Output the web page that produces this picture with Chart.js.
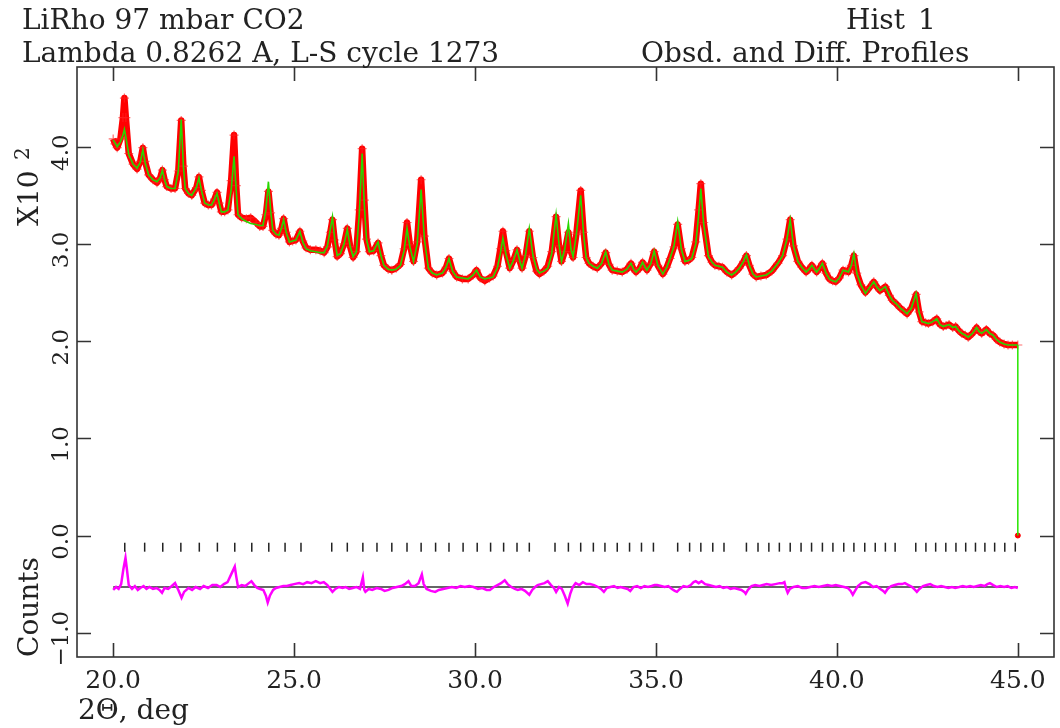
<!DOCTYPE html>
<html>
<head>
<meta charset="utf-8">
<script src="https://cdn.jsdelivr.net/npm/chart.js@4.4.1/dist/chart.umd.min.js"></script>
<style>
  html, body { margin: 0; padding: 0; background: #fff; }
  canvas { display: block; }
</style>
</head>
<body>
<canvas id="gsasPlot" width="1060" height="728"></canvas>
<script>
// profile, 2-theta in deg, counts in units of 10^2
const twoTheta = [
    20.00, 20.05, 20.11, 20.20, 20.27, 20.31, 20.35, 20.43, 20.55, 20.66,
    20.75, 20.82, 20.88, 20.98, 21.10, 21.21, 21.30, 21.36, 21.42, 21.48,
    21.60, 21.71, 21.80, 21.88, 21.94, 21.99, 22.08, 22.17, 22.30, 22.37,
    22.44, 22.53, 22.63, 22.72, 22.80, 22.87, 22.93, 22.99, 23.08, 23.17,
    23.26, 23.34, 23.40, 23.45, 23.55, 23.68, 23.80, 23.95, 24.05, 24.14,
    24.22, 24.29, 24.35, 24.41, 24.50, 24.58, 24.65, 24.71, 24.78, 24.87,
    24.96, 25.05, 25.16, 25.24, 25.33, 25.45, 25.60, 25.72, 25.83, 25.92,
    26.00, 26.06, 26.12, 26.19, 26.28, 26.38, 26.47, 26.55, 26.63, 26.72,
    26.80, 26.88, 26.94, 27.00, 27.08, 27.20, 27.32, 27.40, 27.48, 27.60,
    27.70, 27.82, 27.94, 28.04, 28.12, 28.20, 28.30, 28.40, 28.51, 28.60,
    28.71, 28.82, 28.94, 29.10, 29.20, 29.28, 29.38, 29.49, 29.65, 29.81,
    29.95, 30.04, 30.14, 30.27, 30.40, 30.50, 30.62, 30.70, 30.77, 30.85,
    30.96, 31.06, 31.16, 31.24, 31.30, 31.40, 31.50, 31.60, 31.70, 31.78,
    31.90, 32.01, 32.12, 32.24, 32.32, 32.39, 32.48, 32.58, 32.65, 32.71,
    32.80, 32.92, 33.00, 33.07, 33.15, 33.26, 33.38, 33.50, 33.61, 33.70,
    33.79, 33.93, 34.07, 34.20, 34.31, 34.38, 34.45, 34.55, 34.63, 34.70,
    34.75, 34.86, 34.95, 35.05, 35.19, 35.30, 35.39, 35.50, 35.60, 35.70,
    35.80, 35.90, 35.99, 36.10, 36.18, 36.24, 36.32, 36.45, 36.55, 36.63,
    36.74, 36.84, 36.96, 37.09, 37.20, 37.30, 37.42, 37.50, 37.58, 37.68,
    37.77, 37.90, 38.05, 38.20, 38.37, 38.50, 38.62, 38.71, 38.80, 38.92,
    39.03, 39.15, 39.23, 39.31, 39.38, 39.44, 39.52, 39.60, 39.70, 39.79,
    39.88, 39.97, 40.07, 40.17, 40.25, 40.32, 40.40, 40.47, 40.55, 40.66,
    40.79, 40.90, 41.02, 41.10, 41.19, 41.34, 41.45, 41.53, 41.65, 41.75,
    41.85, 41.94, 42.06, 42.19, 42.27, 42.35, 42.45, 42.53, 42.65, 42.76,
    42.85, 42.94, 43.02, 43.10, 43.20, 43.28, 43.36, 43.45, 43.55, 43.63,
    43.75, 43.86, 43.93, 44.00, 44.07, 44.13, 44.22, 44.32, 44.40, 44.50,
    44.62, 44.73, 44.85, 45.00
];

const obsCounts = [
    4.08, 4.03, 3.99, 4.08, 4.30, 4.50, 4.30, 3.93, 3.82, 3.77,
    3.85, 3.99, 3.85, 3.71, 3.66, 3.63, 3.68, 3.76, 3.66, 3.59,
    3.57, 3.57, 3.75, 4.27, 3.80, 3.57, 3.52, 3.50, 3.58, 3.69,
    3.55, 3.42, 3.40, 3.40, 3.46, 3.53, 3.42, 3.33, 3.33, 3.35,
    3.65, 4.12, 3.60, 3.30, 3.27, 3.26, 3.27, 3.22, 3.18, 3.18,
    3.30, 3.54, 3.32, 3.14, 3.10, 3.09, 3.16, 3.26, 3.12, 3.02,
    3.03, 3.04, 3.13, 3.03, 2.96, 2.94, 2.94, 2.93, 2.91, 2.97,
    3.12, 3.25, 3.04, 2.87, 2.90, 3.00, 3.16, 2.97, 2.86, 2.92,
    3.35, 3.98, 3.45, 3.05, 2.92, 2.93, 3.01, 2.88, 2.78, 2.74,
    2.73, 2.75, 2.79, 2.95, 3.22, 2.99, 2.82, 3.02, 3.66, 3.08,
    2.75, 2.70, 2.68, 2.70, 2.76, 2.85, 2.72, 2.66, 2.64, 2.64,
    2.68, 2.73, 2.65, 2.62, 2.65, 2.67, 2.77, 2.95, 3.13, 2.93,
    2.75, 2.83, 2.94, 2.82, 2.75, 2.88, 3.13, 2.86, 2.72, 2.69,
    2.72, 2.77, 2.92, 3.28, 2.98, 2.82, 2.92, 3.12, 2.92, 2.86,
    3.10, 3.55, 3.12, 2.86, 2.80, 2.77, 2.75, 2.80, 2.91, 2.79,
    2.73, 2.72, 2.71, 2.74, 2.80, 2.74, 2.71, 2.75, 2.81, 2.76,
    2.73, 2.80, 2.92, 2.78, 2.69, 2.76, 2.85, 2.97, 3.20, 2.95,
    2.82, 2.83, 2.86, 3.02, 3.35, 3.62, 3.22, 2.88, 2.81, 2.78,
    2.77, 2.76, 2.71, 2.68, 2.71, 2.75, 2.82, 2.88, 2.78, 2.69,
    2.66, 2.67, 2.68, 2.72, 2.80, 2.88, 3.05, 3.25, 2.98, 2.82,
    2.76, 2.71, 2.74, 2.78, 2.74, 2.71, 2.75, 2.80, 2.70, 2.64,
    2.62, 2.61, 2.65, 2.73, 2.72, 2.71, 2.78, 2.88, 2.70, 2.58,
    2.50, 2.55, 2.61, 2.56, 2.52, 2.56, 2.47, 2.42, 2.38, 2.34,
    2.31, 2.28, 2.34, 2.48, 2.30, 2.20, 2.19, 2.18, 2.20, 2.23,
    2.17, 2.15, 2.16, 2.17, 2.14, 2.15, 2.11, 2.08, 2.06, 2.04,
    2.08, 2.14, 2.10, 2.08, 2.10, 2.12, 2.08, 2.06, 2.02, 1.99,
    1.97, 1.96, 1.96, 1.96
];

const calcCounts = [
    4.07, 4.04, 4.00, 4.05, 4.12, 4.18, 4.10, 3.92, 3.82, 3.78,
    3.84, 3.97, 3.84, 3.71, 3.66, 3.64, 3.68, 3.76, 3.66, 3.59,
    3.57, 3.57, 3.75, 4.28, 3.80, 3.57, 3.52, 3.50, 3.58, 3.68,
    3.55, 3.42, 3.40, 3.40, 3.46, 3.52, 3.42, 3.33, 3.33, 3.35,
    3.55, 3.90, 3.55, 3.30, 3.26, 3.23, 3.21, 3.20, 3.19, 3.19,
    3.35, 3.64, 3.35, 3.14, 3.10, 3.09, 3.16, 3.25, 3.12, 3.02,
    3.03, 3.04, 3.13, 3.02, 2.95, 2.93, 2.92, 2.91, 2.91, 2.98,
    3.15, 3.28, 3.05, 2.88, 2.90, 3.00, 3.15, 2.97, 2.87, 2.92,
    3.30, 3.93, 3.40, 3.05, 2.92, 2.93, 3.02, 2.88, 2.78, 2.74,
    2.73, 2.74, 2.78, 2.93, 3.16, 2.97, 2.82, 3.00, 3.56, 3.05,
    2.75, 2.70, 2.68, 2.70, 2.76, 2.85, 2.72, 2.66, 2.65, 2.64,
    2.68, 2.73, 2.66, 2.64, 2.65, 2.66, 2.76, 2.90, 3.06, 2.90,
    2.75, 2.83, 2.94, 2.82, 2.75, 2.90, 3.16, 2.88, 2.74, 2.70,
    2.72, 2.75, 2.90, 3.30, 3.00, 2.82, 2.95, 3.21, 2.95, 2.87,
    3.10, 3.50, 3.10, 2.86, 2.80, 2.77, 2.75, 2.80, 2.92, 2.79,
    2.73, 2.72, 2.71, 2.74, 2.80, 2.74, 2.71, 2.75, 2.81, 2.76,
    2.73, 2.80, 2.93, 2.78, 2.69, 2.76, 2.85, 2.98, 3.23, 2.95,
    2.82, 2.83, 2.85, 3.00, 3.30, 3.57, 3.20, 2.87, 2.81, 2.78,
    2.77, 2.76, 2.71, 2.68, 2.71, 2.75, 2.82, 2.89, 2.78, 2.69,
    2.66, 2.67, 2.68, 2.72, 2.80, 2.88, 3.05, 3.25, 2.98, 2.82,
    2.76, 2.71, 2.74, 2.78, 2.74, 2.71, 2.75, 2.80, 2.70, 2.64,
    2.62, 2.61, 2.65, 2.73, 2.72, 2.71, 2.78, 2.90, 2.70, 2.58,
    2.49, 2.55, 2.61, 2.56, 2.52, 2.56, 2.47, 2.42, 2.38, 2.34,
    2.31, 2.28, 2.34, 2.49, 2.30, 2.20, 2.19, 2.18, 2.20, 2.23,
    2.17, 2.15, 2.16, 2.17, 2.14, 2.15, 2.11, 2.08, 2.06, 2.04,
    2.08, 2.14, 2.10, 2.08, 2.10, 2.12, 2.08, 2.06, 2.02, 1.99,
    1.97, 1.96, 1.96, 1.96
];

// last point of the histogram: calc drops to zero, obs point sits at zero
const endTheta = 45.00;
const endCounts = [1.96, 0.00];

// difference curve (obs - calc, offset)
const diffTheta = [
    20.00, 20.08, 20.15, 20.22, 20.28, 20.34, 20.38, 20.43, 20.52, 20.60,
    20.68, 20.75, 20.84, 20.92, 21.00, 21.10, 21.20, 21.28, 21.35, 21.42,
    21.52, 21.62, 21.71, 21.80, 21.89, 21.96, 22.08, 22.18, 22.28, 22.40,
    22.50, 22.62, 22.74, 22.86, 22.96, 23.06, 23.16, 23.26, 23.36, 23.40,
    23.45, 23.55, 23.65, 23.75, 23.82, 23.90, 23.98, 24.06, 24.15, 24.22,
    24.27, 24.33, 24.42, 24.50, 24.60, 24.70, 24.80, 24.90, 25.00, 25.14,
    25.25, 25.36, 25.48, 25.60, 25.72, 25.82, 25.92, 26.00, 26.06, 26.14,
    26.24, 26.34, 26.42, 26.52, 26.62, 26.72, 26.82, 26.90, 26.94, 26.97,
    27.06, 27.16, 27.28, 27.40, 27.50, 27.61, 27.72, 27.84, 27.96, 28.06,
    28.16, 28.24, 28.34, 28.44, 28.53, 28.58, 28.66, 28.78, 28.90, 29.00,
    29.12, 29.24, 29.36, 29.48, 29.60, 29.72, 29.84, 29.96, 30.08, 30.20,
    30.32, 30.41, 30.52, 30.62, 30.72, 30.82, 30.90, 31.00, 31.10, 31.18,
    31.28, 31.38, 31.50, 31.58, 31.66, 31.73, 31.82, 31.92, 32.01, 32.10,
    32.18, 32.24, 32.32, 32.40, 32.48, 32.56, 32.63, 32.70, 32.78, 32.88,
    32.98, 33.08, 33.18, 33.29, 33.40, 33.48, 33.56, 33.64, 33.74, 33.84,
    33.94, 34.02, 34.12, 34.22, 34.29, 34.38, 34.48, 34.58, 34.68, 34.78,
    34.88, 34.96, 35.03, 35.14, 35.24, 35.34, 35.44, 35.52, 35.58, 35.66,
    35.76, 35.86, 35.96, 36.04, 36.10, 36.18, 36.26, 36.36, 36.46, 36.56,
    36.66, 36.76, 36.86, 36.96, 37.06, 37.16, 37.26, 37.36, 37.44, 37.48,
    37.54, 37.64, 37.74, 37.86, 37.96, 38.06, 38.18, 38.30, 38.42, 38.50,
    38.55, 38.60, 38.64, 38.70, 38.80, 38.92, 39.04, 39.15, 39.26, 39.38,
    39.50, 39.62, 39.74, 39.86, 39.97, 40.08, 40.20, 40.30, 40.38, 40.44,
    40.50, 40.58, 40.68, 40.79, 40.90, 41.00, 41.10, 41.20, 41.28, 41.33,
    41.40, 41.50, 41.60, 41.70, 41.80, 41.88, 41.98, 42.08, 42.16, 42.21,
    42.28, 42.38, 42.48, 42.58, 42.68, 42.78, 42.88, 42.98, 43.08, 43.18,
    43.27, 43.38, 43.48, 43.58, 43.68, 43.78, 43.88, 43.98, 44.08, 44.16,
    44.23, 44.32, 44.42, 44.52, 44.62, 44.72, 44.82, 44.92, 45.00
];

const diffCounts = [
    -0.56, -0.53, -0.55, -0.50, -0.35, -0.23, -0.35, -0.51, -0.55, -0.52,
    -0.56, -0.54, -0.52, -0.55, -0.53, -0.55, -0.54, -0.56, -0.59, -0.54,
    -0.55, -0.52, -0.49, -0.56, -0.64, -0.58, -0.54, -0.56, -0.53, -0.55,
    -0.52, -0.54, -0.51, -0.51, -0.53, -0.50, -0.48, -0.40, -0.32, -0.42,
    -0.53, -0.51, -0.52, -0.49, -0.47, -0.51, -0.54, -0.55, -0.56, -0.62,
    -0.69, -0.62, -0.56, -0.54, -0.53, -0.52, -0.52, -0.51, -0.50, -0.49,
    -0.50, -0.48, -0.49, -0.47, -0.49, -0.48, -0.51, -0.55, -0.58, -0.55,
    -0.53, -0.54, -0.53, -0.55, -0.54, -0.53, -0.55, -0.43, -0.56, -0.58,
    -0.55, -0.56, -0.54, -0.55, -0.57, -0.56, -0.54, -0.53, -0.52, -0.50,
    -0.47, -0.52, -0.52, -0.49, -0.40, -0.50, -0.55, -0.57, -0.58, -0.56,
    -0.55, -0.54, -0.53, -0.54, -0.52, -0.53, -0.52, -0.53, -0.55, -0.54,
    -0.56, -0.56, -0.53, -0.51, -0.49, -0.46, -0.50, -0.53, -0.55, -0.56,
    -0.55, -0.57, -0.61, -0.56, -0.53, -0.51, -0.50, -0.49, -0.47, -0.51,
    -0.54, -0.58, -0.53, -0.55, -0.62, -0.70, -0.60, -0.53, -0.49, -0.51,
    -0.48, -0.50, -0.50, -0.51, -0.53, -0.55, -0.58, -0.54, -0.53, -0.52,
    -0.54, -0.53, -0.54, -0.55, -0.57, -0.53, -0.52, -0.54, -0.52, -0.53,
    -0.52, -0.51, -0.51, -0.52, -0.53, -0.52, -0.55, -0.57, -0.58, -0.55,
    -0.52, -0.53, -0.51, -0.48, -0.47, -0.49, -0.47, -0.50, -0.51, -0.52,
    -0.53, -0.52, -0.54, -0.53, -0.55, -0.54, -0.55, -0.56, -0.58, -0.60,
    -0.56, -0.52, -0.51, -0.52, -0.51, -0.50, -0.51, -0.50, -0.49, -0.49,
    -0.48, -0.55, -0.59, -0.55, -0.53, -0.52, -0.54, -0.54, -0.53, -0.52,
    -0.53, -0.52, -0.51, -0.52, -0.51, -0.52, -0.53, -0.54, -0.57, -0.61,
    -0.57, -0.52, -0.49, -0.48, -0.50, -0.53, -0.52, -0.55, -0.57, -0.59,
    -0.55, -0.52, -0.51, -0.50, -0.50, -0.49, -0.51, -0.53, -0.56, -0.58,
    -0.55, -0.52, -0.51, -0.50, -0.52, -0.53, -0.52, -0.53, -0.54, -0.53,
    -0.54, -0.53, -0.52, -0.53, -0.52, -0.53, -0.52, -0.51, -0.52, -0.50,
    -0.49, -0.51, -0.53, -0.52, -0.53, -0.52, -0.54, -0.53, -0.54
];
const diffZero = -0.53;

// reflection positions
const reflTheta = [
    20.32, 20.87, 21.37, 21.87, 22.38, 22.88, 23.36, 23.83, 24.30, 24.75,
    25.19, 26.04, 26.47, 26.90, 27.29, 27.70, 28.12, 28.51, 28.91, 29.28,
    29.67, 30.06, 30.43, 30.79, 31.16, 31.50, 32.21, 32.58, 32.92, 33.27,
    33.59, 33.93, 34.27, 34.60, 34.93, 35.60, 35.93, 36.24, 36.57, 36.88,
    37.50, 37.82, 38.12, 38.41, 38.71, 39.01, 39.30, 39.60, 39.89, 40.19,
    40.47, 40.77, 41.06, 41.34, 41.61, 42.18, 42.46, 42.73, 43.01, 43.29,
    43.56, 43.83, 44.09, 44.36, 44.64, 44.93
];
const reflLevel = -0.12;

const xTicks = [20, 25, 30, 35, 40, 45];
const yTicks = [-1, 0, 1, 2, 3, 4];

const FONT = '"DejaVu Serif", "Liberation Serif", serif';
const INK = '#222';

function pairs(xs, ys) {
    return xs.map((v, i) => ({ x: v, y: ys[i] }));
}

// frame, inward ticks and all the labels, GSAS style
const gsasFrame = {
    id: 'gsasFrame',
    afterDraw(chart) {
        const { ctx, chartArea: a, scales: { x, y } } = chart;
        ctx.save();

        ctx.strokeStyle = '#333';
        ctx.lineWidth = 1.6;
        ctx.strokeRect(a.left, a.top, a.right - a.left, a.bottom - a.top);

        const tick = 14;
        ctx.beginPath();
        xTicks.forEach((v) => {
            const px = Math.round(x.getPixelForValue(v)) + 0.5;
            ctx.moveTo(px, a.bottom);
            ctx.lineTo(px, a.bottom - tick);
            ctx.moveTo(px, a.top);
            ctx.lineTo(px, a.top + tick);
        });
        yTicks.forEach((v) => {
            const py = Math.round(y.getPixelForValue(v)) + 0.5;
            ctx.moveTo(a.left, py);
            ctx.lineTo(a.left + tick, py);
            ctx.moveTo(a.right, py);
            ctx.lineTo(a.right - tick, py);
        });
        ctx.stroke();

        ctx.fillStyle = INK;

        // x tick labels
        ctx.font = `25px ${FONT}`;
        ctx.textAlign = 'center';
        ctx.textBaseline = 'alphabetic';
        xTicks.forEach((v) => {
            ctx.fillText(v.toFixed(1), x.getPixelForValue(v), a.bottom + 31);
        });

        // y tick labels, rotated
        ctx.font = `23px ${FONT}`;
        yTicks.forEach((v) => {
            const py = y.getPixelForValue(v);
            const txt = v < 0 ? '\u2212' + Math.abs(v).toFixed(1) : v.toFixed(1);
            ctx.save();
            ctx.translate(a.left - 9, py + 6);
            ctx.rotate(-Math.PI / 2);
            ctx.textAlign = 'center';
            ctx.fillText(txt, 0, 0);
            ctx.restore();
        });

        // axis titles
        ctx.font = `28px ${FONT}`;
        ctx.save();
        ctx.translate(38, 226);
        ctx.rotate(-Math.PI / 2);
        ctx.textAlign = 'left';
        ctx.fillText('X10', 0, 0);
        ctx.font = `20px ${FONT}`;
        ctx.fillText('2', 66, -9);
        ctx.restore();

        ctx.save();
        ctx.font = `28px ${FONT}`;
        ctx.translate(38, a.bottom);
        ctx.rotate(-Math.PI / 2);
        ctx.textAlign = 'left';
        ctx.fillText('Counts', 0, 0);
        ctx.restore();

        ctx.font = `28px ${FONT}`;
        ctx.textAlign = 'left';
        ctx.fillText('2\u0398, deg', 78, 719);

        // header
        ctx.fillText('LiRho 97 mbar CO2', 22, 29);
        ctx.fillText('Lambda 0.8262 A, L-S cycle 1273', 22, 62);
        ctx.fillText('Hist', 846, 29);
        ctx.fillText('1', 918, 29);
        ctx.fillText('Obsd. and Diff. Profiles', 641, 62);

        ctx.restore();
    }
};

new Chart(document.getElementById('gsasPlot'), {
    type: 'scatter',
    data: {
        datasets: [
            {
                label: 'calc',
                data: pairs(twoTheta, calcCounts),
                showLine: true,
                borderColor: 'rgb(40,215,0)',
                borderWidth: 1.6,
                pointRadius: 0,
                order: 1
            },
            {
                label: 'calc end',
                data: [{ x: endTheta, y: endCounts[0] }, { x: endTheta, y: endCounts[1] }],
                showLine: true,
                borderColor: 'rgb(40,230,0)',
                borderWidth: 1.5,
                pointRadius: 0,
                order: 1
            },
            {
                label: 'obs',
                data: pairs(twoTheta, obsCounts),
                showLine: true,
                borderColor: 'rgb(255,0,0)',
                borderWidth: 6.5,
                borderJoinStyle: 'round',
                pointStyle: 'cross',
                pointRadius: 4.5,
                pointBorderWidth: 1.2,
                pointBorderColor: 'rgba(255,30,30,0.65)',
                order: 2
            },
            {
                label: 'obs end',
                data: [{ x: endTheta, y: endCounts[1] }],
                pointRadius: 2.5,
                pointBackgroundColor: 'rgb(255,0,0)',
                pointBorderColor: 'rgb(255,0,0)',
                order: 2
            },
            {
                label: 'diff',
                data: pairs(diffTheta, diffCounts),
                showLine: true,
                borderColor: '#ff00ff',
                borderWidth: 2.5,
                pointRadius: 0,
                order: 3
            },
            {
                label: 'zero',
                data: [{ x: 20, y: diffZero }, { x: 45, y: diffZero }],
                showLine: true,
                borderColor: '#333',
                borderWidth: 1.5,
                pointRadius: 0,
                order: 4
            },
            {
                label: 'reflections',
                data: reflTheta.map((v) => ({ x: v, y: reflLevel })),
                pointStyle: 'line',
                rotation: 90,
                pointRadius: 4.5,
                pointBorderWidth: 1.5,
                pointBorderColor: '#222',
                order: 1
            }
        ]
    },
    options: {
        responsive: false,
        animation: false,
        events: [],
        layout: { padding: { left: 77, top: 67, right: 1, bottom: 71 } },
        elements: { line: { tension: 0 } },
        plugins: {
            legend: { display: false },
            tooltip: { enabled: false }
        },
        scales: {
            x: { type: 'linear', min: 19, max: 46, display: false },
            y: { type: 'linear', min: -1.25, max: 4.82, display: false }
        }
    },
    plugins: [gsasFrame]
});
</script>
</body>
</html>
